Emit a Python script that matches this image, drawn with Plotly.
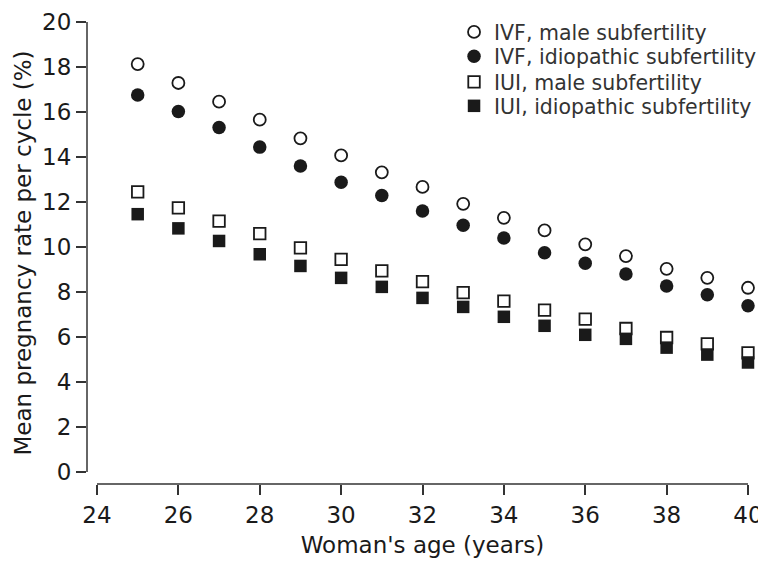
import plotly.graph_objects as go

ages = list(range(25, 41))
ivf_male = [18.13, 17.29, 16.46, 15.66, 14.83, 14.07, 13.32, 12.67, 11.92, 11.30, 10.74, 10.12, 9.60, 9.03, 8.63, 8.19]
ivf_idio = [16.76, 16.02, 15.31, 14.44, 13.60, 12.88, 12.29, 11.60, 10.97, 10.40, 9.75, 9.28, 8.80, 8.27, 7.88, 7.39]
iui_male = [12.45, 11.74, 11.15, 10.60, 9.96, 9.45, 8.94, 8.46, 7.97, 7.60, 7.20, 6.80, 6.38, 5.98, 5.70, 5.30]
iui_idio = [11.46, 10.83, 10.27, 9.68, 9.16, 8.63, 8.23, 7.74, 7.34, 6.90, 6.50, 6.10, 5.92, 5.53, 5.22, 4.87]

names = ["IVF, male subfertility", "IVF, idiopathic subfertility",
         "IUI, male subfertility", "IUI, idiopathic subfertility"]
x_ticks = [24, 26, 28, 30, 32, 34, 36, 38, 40]
y_ticks = [0, 2, 4, 6, 8, 10, 12, 14, 16, 18, 20]

FONT = "DejaVu Sans, sans-serif"
INK = "#1a1a1a"

fig = go.Figure()
styles = [
    dict(symbol="circle", size=12, color="white", line=dict(color=INK, width=1.8)),
    dict(symbol="circle", size=13.5, color=INK, line=dict(color=INK, width=0)),
    dict(symbol="square", size=11.5, color="white", line=dict(color=INK, width=1.8)),
    dict(symbol="square", size=12.5, color=INK, line=dict(color=INK, width=0)),
]
legend_ids = ["legend", "legend2", "legend3", "legend4"]
legend_y = [0.9570, 0.9135, 0.8681, 0.8253]

for name, vals, st, lid in zip(names, [ivf_male, ivf_idio, iui_male, iui_idio], styles, legend_ids):
    fig.add_trace(go.Scatter(x=ages, y=vals, mode="markers", name=name,
                             marker=st, cliponaxis=False, legend=lid))

legend_common = dict(x=0.547, xanchor="left", yanchor="middle", yref="container",
                     bgcolor="rgba(0,0,0,0)", borderwidth=0,
                     font=dict(family=FONT, size=20.5, color="#333333"),
                     itemwidth=30)

fig.update_layout(
    width=766, height=561,
    margin=dict(l=79, r=16, t=14, b=85, autoexpand=False),
    paper_bgcolor="white", plot_bgcolor="white",
    font=dict(family=FONT, color=INK, size=23),
    showlegend=True,
    legend=dict(y=legend_y[0], **legend_common),
    legend2=dict(y=legend_y[1], **legend_common),
    legend3=dict(y=legend_y[2], **legend_common),
    legend4=dict(y=legend_y[3], **legend_common),
    xaxis=dict(range=[23.754, 40.246], tickvals=x_ticks, ticktext=[str(v) for v in x_ticks],
               showgrid=False, zeroline=False, showline=False,
               ticks="outside", ticklen=10, tickwidth=1.5, tickcolor="#333",
               tickfont=dict(size=23),
               title=dict(text="Woman's age (years)", font=dict(size=23), standoff=10)),
    yaxis=dict(range=[-0.53, 20.0], tickvals=y_ticks, ticktext=[str(v) for v in y_ticks],
               showgrid=False, zeroline=False, showline=False,
               ticks="outside", ticklen=10, tickwidth=1.5, tickcolor="#333",
               tickfont=dict(size=23),
               title=dict(text="Mean pregnancy rate per cycle (%)", font=dict(size=23), standoff=4)),
    shapes=[
        dict(type="line", xref="x", yref="paper", x0=x_ticks[0], x1=x_ticks[-1], y0=0, y1=0,
             line=dict(color="#333", width=1.5)),
        dict(type="line", xref="paper", yref="y", x0=0, x1=0, y0=y_ticks[0], y1=y_ticks[-1],
             line=dict(color="#333", width=1.5)),
    ],
)

fig.write_html("out.html")
